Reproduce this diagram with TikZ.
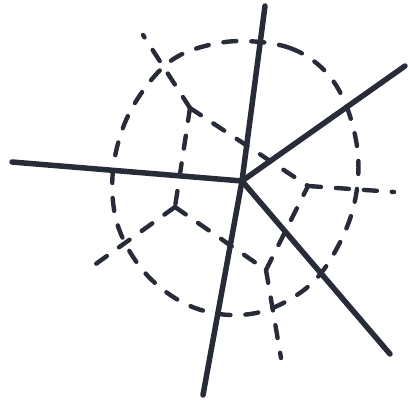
\documentclass[tikz,border=0pt]{standalone}
\definecolor{ink}{RGB}{40,43,56}
\begin{document}
\begin{tikzpicture}[x=1pt,y=-1pt,
  solidline/.style={draw=ink,line width=5.5pt,line cap=round,line join=round},
  dashline/.style={draw=ink,line width=4.4pt,line cap=round,line join=round,dash pattern=on 13pt off 15pt}]
\useasboundingbox (0,0) rectangle (408,404);
% solid lines
\coordinate (C) at (242,181);
\coordinate (A) at (12,162);
\coordinate (B) at (265,6);
\coordinate (D) at (405,66);
\coordinate (E) at (390,354);
\coordinate (F) at (203,395);
% voronoi vertices
\coordinate (P1) at (190,108);
\coordinate (P2) at (175,207);
\coordinate (P3) at (266,270);
\coordinate (P4) at (308,186);
\coordinate (R1) at (143,35);
\coordinate (R2) at (93,266);
\coordinate (R3) at (281,358);
\coordinate (R4) at (394,192);
% dashed circle
\draw[dashline] plot[smooth cycle, tension=0.6] coordinates {
 (244,41) (290,48) (324,70) (346,105) (358,155) (354,205) (336,250) (310,285)
 (270,309) (230,315) (190,306) (155,283) (130,252) (115,215) (113,170)
 (124,125) (145,88) (172,60) (205,46)};
% dashed cells
\draw[dashline] (P1) -- (R1);
\draw[dashline] (P1) -- (P2);
\draw[dashline] (P1) -- (P4);
\draw[dashline] (P2) -- (R2);
\draw[dashline] (P2) -- (P3);
\draw[dashline] (P3) -- (R3);
\draw[dashline] (P3) -- (P4);
\draw[dashline] (P4) -- (R4);
% solid rays
\draw[solidline] (A) -- (C);
\draw[solidline] (B) -- (C) -- (F);
\draw[solidline] (C) -- (D);
\draw[solidline] (C) -- (E);
\end{tikzpicture}
\end{document}
